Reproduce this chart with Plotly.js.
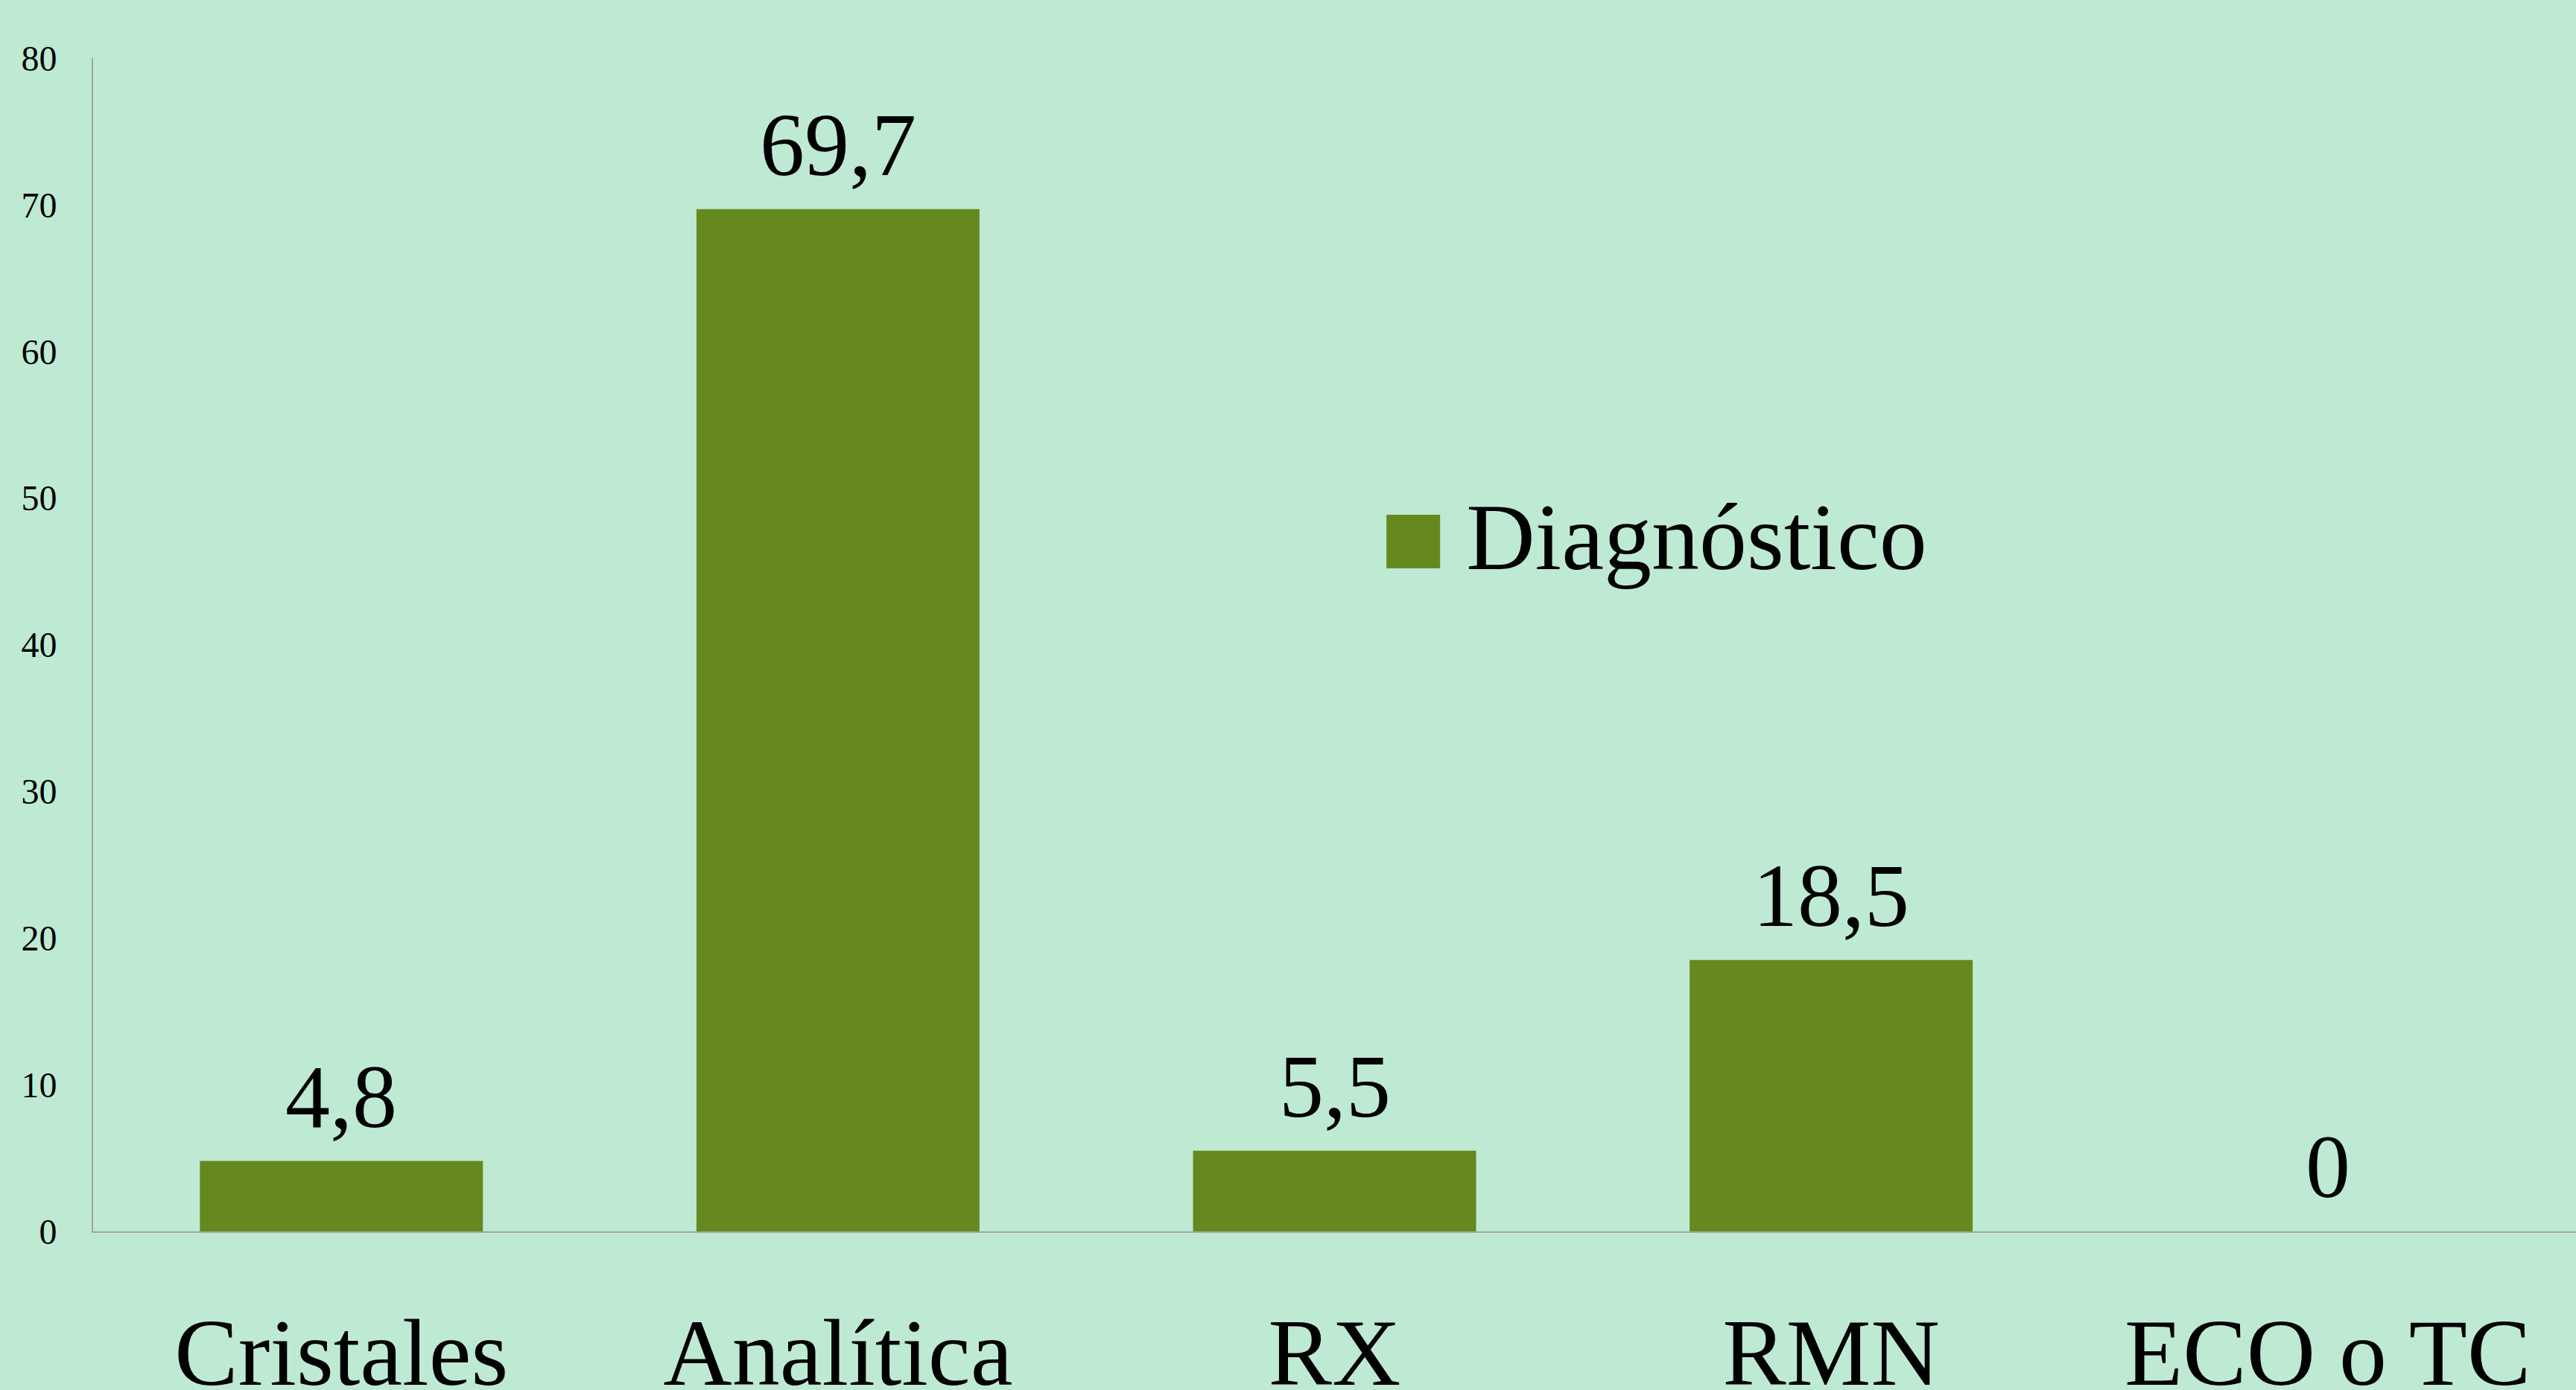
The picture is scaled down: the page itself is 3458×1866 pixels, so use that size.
<!DOCTYPE html>
<html>
<head>
<meta charset="utf-8">
<script src="https://cdn.plot.ly/plotly-3.0.1.min.js"></script>
<style>
  html, body { margin: 0; padding: 0; background: #BEEAD4; }
  #chart { width: 3458px; height: 1866px; }
</style>
</head>
<body>
<div id="chart"></div>
<script>
const categories = ["Cristales", "Analítica", "RX", "RMN", "ECO o TC"];
const values = [4.8, 69.7, 5.5, 18.5, 0];
const seriesName = "Diagnóstico";
const yTicks = [0, 10, 20, 30, 40, 50, 60, 70, 80];

const labels = values.map(v => String(v).replace('.', ','));

const FONT = "'Liberation Serif', 'Times New Roman', serif";
const BG = "#BEEAD4";
const BAR = "#65891F";

const trace = {
  type: "bar",
  x: categories,
  y: values,
  name: seriesName,
  marker: { color: BAR },
  hoverinfo: "none"
};

const annotations = categories.map((c, i) => ({
  x: c,
  y: values[i],
  xref: "x",
  yref: "y",
  text: labels[i],
  showarrow: false,
  xanchor: "center",
  yanchor: "bottom",
  yshift: 18,
  font: { family: FONT, size: 120, color: "#000000" }
}));

const layout = {
  width: 3458,
  height: 1866,
  paper_bgcolor: BG,
  plot_bgcolor: BG,
  margin: { l: 125, r: 0, t: 78, b: 213 },
  bargap: 0.43,
  showlegend: true,
  legend: {
    x: 0.5104, y: 0.596, xanchor: "left", yanchor: "middle",
    bgcolor: "rgba(0,0,0,0)",
    font: { family: FONT, size: 128, color: "#000000" },
    itemwidth: 132
  },
  annotations: annotations,
  xaxis: {
    type: "category",
    showline: true, linecolor: "#A3A3A3", linewidth: 2,
    showgrid: false, zeroline: false, ticks: "",
    ticklabelstandoff: 50,
    tickfont: { family: FONT, size: 128, color: "#000000" }
  },
  yaxis: {
    range: [0, 80],
    tickvals: yTicks,
    ticktext: yTicks.map(String),
    showline: true, linecolor: "#A3A3A3", linewidth: 2,
    showgrid: false, zeroline: false, ticks: "",
    ticklabelstandoff: 37,
    tickfont: { family: FONT, size: 48, color: "#000000" }
  }
};

Plotly.newPlot("chart", [trace], layout, { staticPlot: true, displayModeBar: false }).then(gd => {
  // enlarge the legend swatch to match the large legend text
  const pts = gd.querySelectorAll('.legend .legendpoints path');
  pts.forEach(p => {
    p.setAttribute('d', 'M36,49H-36V-23H36Z');
  });
});
</script>
</body>
</html>
